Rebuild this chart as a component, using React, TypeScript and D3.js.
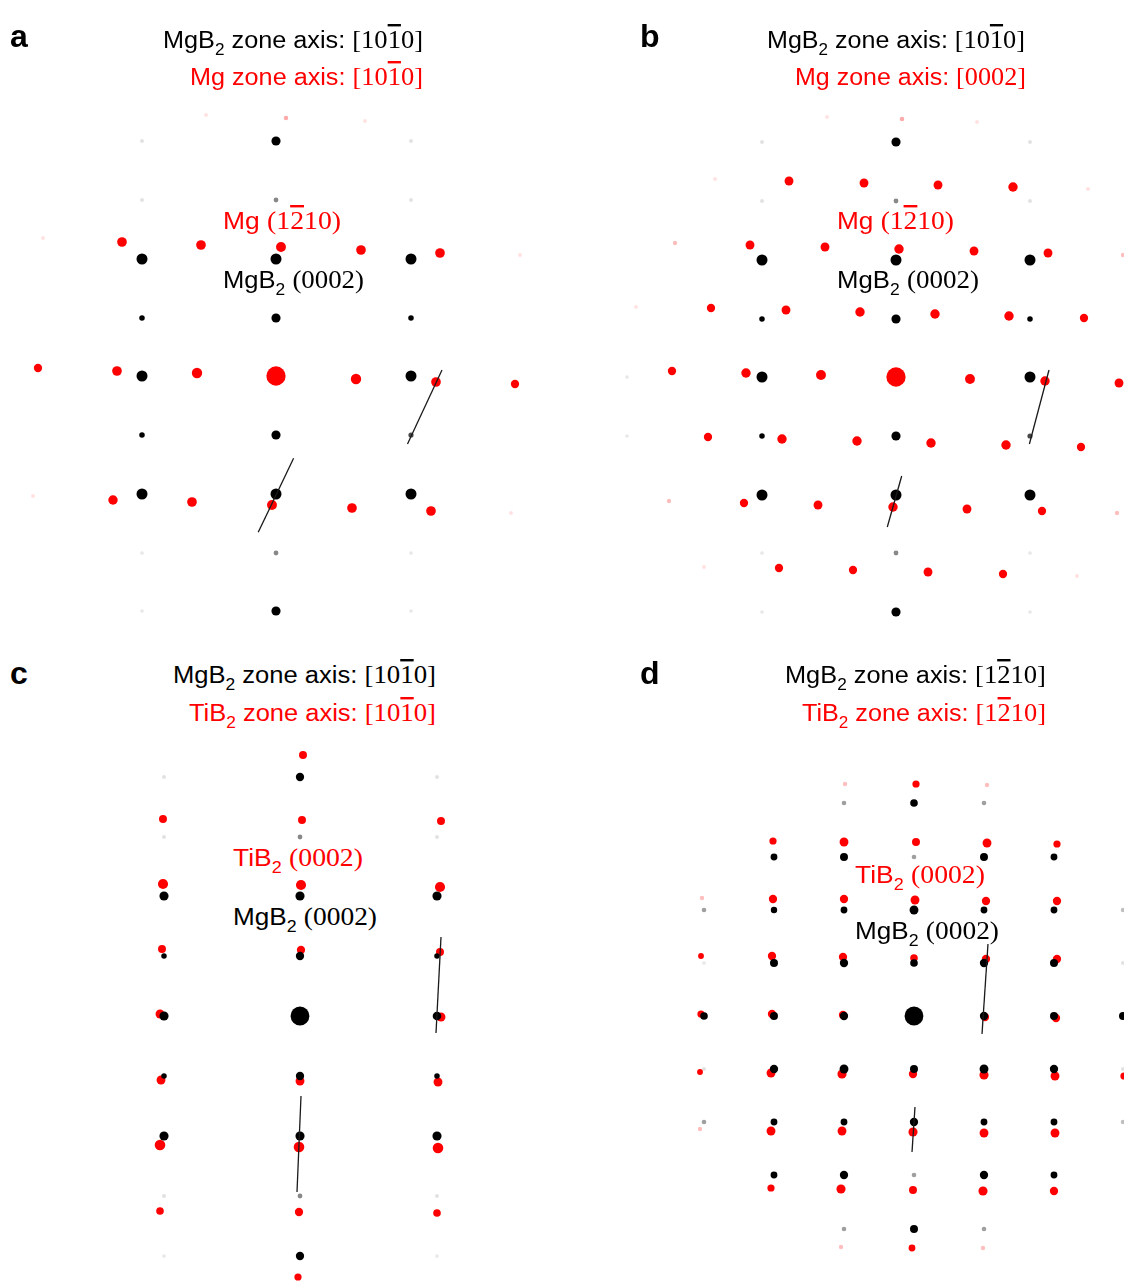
import React from 'react';
import * as d3 from 'd3';

// spot = [gx, gy, intensity]; g in detector units, measured from the transmitted beam
type Spot = [number, number, number];
type Seg = [number, number, number, number];
type Part = { t: string; serif?: boolean; sub?: boolean; bar?: boolean };

// ---- panel a : MgB2 [10-10] / Mg [10-10]
const mgb2A: Spot[] = [
  [-134, -235, 0.6], [0, -235, 12], [135, -235, 0.6],
  [-134, -176, 0.6], [0, -176, 1.5], [135, -176, 0.6],
  [-134, -117, 20], [0, -117, 20], [135, -117, 20],
  [-134, -58, 2.5], [0, -58, 12], [135, -58, 2.5],
  [-134, 0, 20], [135, 0, 20],
  [-134, 59, 2.5], [0, 59, 12], [135, 59, 2],
  [-134, 118, 20], [0, 118, 20], [135, 118, 20],
  [-134, 177, 0.5], [0, 177, 1.5], [135, 177, 0.5],
  [-134, 235, 0.5], [0, 235, 12], [135, 235, 0.5],
];
const mgA: Spot[] = [
  [-70, -261, 0.6], [10, -258, 1.2], [89, -255, 0.6],
  [-233, -138, 0.6], [-154, -134, 14], [-75, -131, 14], [5, -129, 15], [85, -126, 14], [164, -123, 14], [244, -121, 0.6],
  [-238, -8, 9], [-159, -5, 14], [-79, -3, 17], [0, 0, 85], [80, 3, 17], [160, 6, 14], [239, 8, 9],
  [-243, 120, 0.6], [-163, 124, 13], [-84, 126, 14], [-4, 129, 15], [76, 132, 14], [155, 135, 14], [235, 137, 0.6],
];
const linesA: Seg[] = [[166, -6, 131.5, 68], [17.6, 82.3, -17.8, 156.3]];

// ---- panel b : MgB2 [10-10] / Mg [0002]
const mgb2B: Spot[] = [
  [-269, 0, 0.5], [-269, 59, 0.5],
  [-134, -235, 0.6], [0, -235, 12], [134, -235, 0.6],
  [-134, -176, 0.6], [0, -176, 1.5], [134, -176, 0.6],
  [-134, -117, 20], [0, -117, 20], [134, -117, 20],
  [-134, -58, 2.5], [0, -58, 12], [134, -58, 2.5],
  [-134, 0, 20], [134, 0, 20],
  [-134, 59, 2.5], [0, 59, 12], [134, 59, 2],
  [-134, 118, 20], [0, 118, 20], [134, 118, 20],
  [-134, 176, 0.5], [0, 176, 1.5], [134, 176, 0.5],
  [-134, 235, 0.5], [0, 235, 12], [134, 235, 0.5],
];
const mgB: Spot[] = [
  [-69, -260, 0.6], [6, -258, 1.2], [81, -255, 0.6],
  [-181, -198, 0.6], [-107, -196, 11], [-32, -194, 11], [42, -192, 11], [117, -190, 13], [192, -188, 0.6],
  [-221, -134, 1], [-146, -132, 11], [-71, -130, 11], [3, -128, 13], [78, -126, 11], [152, -124, 11], [227, -122, 1],
  [-260, -70, 0.6], [-185, -69, 9], [-110, -67, 11], [-36, -65, 13], [39, -63, 13], [113, -61, 13], [188, -59, 9],
  [-224, -6, 9], [-150, -4, 13], [-75, -2, 15], [0, 0, 85], [74, 2, 15], [149, 4, 13], [223, 6, 11],
  [-188, 60, 9], [-114, 62, 13], [-39, 64, 13], [35, 66, 13], [110, 68, 13], [185, 70, 9],
  [-227, 124, 1], [-152, 126, 9], [-78, 128, 11], [-3, 130, 13], [71, 132, 11], [146, 134, 9], [221, 136, 1],
  [-192, 190, 0.6], [-117, 191, 9], [-43, 193, 9], [32, 195, 11], [107, 197, 9], [181, 199, 0.6],
];
const linesB: Seg[] = [[153, -7, 133.4, 67], [5.7, 99, -8.7, 150]];

// ---- panel c : MgB2 [10-10] / TiB2 [10-10]
const mgb2C: Spot[] = [
  [-136, -239, 0.6], [0, -239, 9], [137, -239, 0.6],
  [-136, -179, 0.6], [0, -179, 1.5], [137, -179, 0.6],
  [-136, -120, 12], [0, -120, 12], [137, -120, 12],
  [-136, -60, 2.5], [0, -60, 9], [137, -60, 2.5],
  [-136, 0, 12], [0, 0, 80], [137, 0, 10],
  [-136, 60, 2.5], [0, 60, 9], [137, 60, 2.5],
  [-136, 120, 12], [0, 120, 12], [137, 120, 12],
  [-136, 180, 0.6], [0, 180, 1.5], [137, 180, 0.6],
  [-136, 240, 0.5], [0, 240, 9], [137, 240, 0.5],
];
const tib2C: Spot[] = [
  [3, -261, 8],
  [-137, -197, 8], [2, -196, 8], [141, -195, 8],
  [-137, -132, 16], [1, -131, 16], [140, -129, 16],
  [-138, -67, 8], [1, -66, 9], [140, -64, 8],
  [-140, -2, 11], [141, 1, 11],
  [-139, 64, 11], [0, 65, 11], [138, 66, 11],
  [-140, 129, 18], [-1, 131, 18], [138, 132, 18],
  [-140, 195, 7], [-1, 196, 9], [137, 197, 7],
  [-2, 261, 6],
];
const linesC: Seg[] = [[141, -79, 136, 17], [1, 80, -3, 176]];

// ---- panel d : MgB2 [1-210] / TiB2 [1-210]
const mgb2D: Spot[] = [
  [-70, -213, 1.3], [0, -213, 7], [70, -213, 1.3],
  [-140, -159, 5], [-70, -159, 8], [0, -159, 1.3], [70, -159, 8], [140, -159, 5],
  [-210, -106, 1.3], [-140, -106, 4], [-70, -106, 5], [0, -106, 11], [70, -106, 5], [140, -106, 5], [209, -106, 1],
  [-210, -53, 0.5], [-140, -53, 8], [-70, -53, 9], [0, -53, 7], [70, -53, 9], [140, -53, 8], [209, -53, 0.6],
  [-210, 0, 7], [-140, 0, 8], [-70, 0, 9], [0, 0, 80], [70, 0, 9], [140, 0, 8], [209, 0, 8],
  [-210, 53, 0.6], [-140, 53, 9], [-70, 53, 11], [0, 53, 8], [70, 53, 11], [140, 53, 9], [209, 53, 0.6],
  [-210, 106, 1.3], [-140, 106, 5], [-70, 106, 5], [0, 106, 9], [70, 106, 5], [140, 106, 5], [209, 106, 1],
  [-140, 159, 5], [-70, 159, 9], [0, 159, 1.3], [70, 159, 9], [140, 159, 5],
  [-70, 213, 1.3], [0, 213, 8], [70, 213, 1.3],
];
const tib2D: Spot[] = [
  [-69, -232, 1], [2, -232, 6], [73, -231, 1],
  [-141, -175, 6], [-70, -174, 11], [2, -174, 8], [73, -173, 11], [143, -172, 6],
  [-212, -118, 1], [-141, -117, 9], [-70, -117, 9], [1, -116, 11], [72, -115, 9], [143, -115, 9],
  [-213, -60, 3], [-142, -60, 9], [-71, -59, 9], [0, -58, 7], [72, -57, 9], [143, -57, 9],
  [-213, -2, 6], [-142, -2, 9], [-71, -1, 9], [71, 1, 9], [142, 2, 9],
  [-214, 56, 3], [-143, 57, 11], [-72, 58, 12], [-1, 58, 9], [70, 59, 12], [141, 60, 11], [210, 60, 6],
  [-214, 113, 1], [-143, 115, 11], [-72, 115, 11], [-1, 116, 12], [70, 117, 11], [141, 117, 11],
  [-143, 172, 6], [-73, 173, 12], [-1, 174, 8], [69, 175, 12], [140, 175, 9],
  [-73, 231, 1], [-2, 232, 5], [69, 232, 1],
];
const linesD: Seg[] = [[74, -72, 68, 18], [1, 91, -2, 136]];

// ---- text
const bar1010: Part[] = [{ t: '[10', serif: true }, { t: '1', serif: true, bar: true }, { t: '0]', serif: true }];
const bar1210: Part[] = [{ t: '[1', serif: true }, { t: '2', serif: true, bar: true }, { t: '10]', serif: true }];
const mgb2Zone = (ax: Part[]): Part[] => [{ t: 'MgB' }, { t: '2', sub: true }, { t: ' zone axis: ' }, ...ax];
const tib2Zone = (ax: Part[]): Part[] => [{ t: 'TiB' }, { t: '2', sub: true }, { t: ' zone axis: ' }, ...ax];
const mgZone = (ax: Part[]): Part[] => [{ t: 'Mg zone axis: ' }, ...ax];
const mgSpot: Part[] = [{ t: 'Mg ' }, { t: '(1', serif: true }, { t: '2', serif: true, bar: true }, { t: '10)', serif: true }];
const mgb2Spot: Part[] = [{ t: 'MgB' }, { t: '2', sub: true }, { t: ' ' }, { t: '(0002)', serif: true }];
const tib2Spot: Part[] = [{ t: 'TiB' }, { t: '2', sub: true }, { t: ' ' }, { t: '(0002)', serif: true }];

const BLACK = '#000';
const RED = '#ff0000';
const SANS = "'Liberation Sans', Arial, sans-serif";
const SERIF = "'Liberation Serif', 'DejaVu Serif', serif";

type Panel = {
  letter: string; lx: number; ly: number;
  cx: number; cy: number;
  under: { spots: Spot[]; color: string };
  over: { spots: Spot[]; color: string };
  lines: Seg[];
  texts: { parts: Part[]; x: number; y: number; w: number; color: string }[];
};

const panels: Panel[] = [
  {
    letter: 'a', lx: 10, ly: 47, cx: 276, cy: 376,
    under: { spots: mgb2A, color: BLACK }, over: { spots: mgA, color: RED }, lines: linesA,
    texts: [
      { parts: mgb2Zone(bar1010), x: 163, y: 48, w: 260, color: BLACK },
      { parts: mgZone(bar1010), x: 190, y: 85, w: 233, color: RED },
      { parts: mgSpot, x: 223, y: 229, w: 118, color: RED },
      { parts: mgb2Spot, x: 223, y: 288, w: 141, color: BLACK },
    ],
  },
  {
    letter: 'b', lx: 640, ly: 47, cx: 896, cy: 377,
    under: { spots: mgb2B, color: BLACK }, over: { spots: mgB, color: RED }, lines: linesB,
    texts: [
      { parts: mgb2Zone(bar1010), x: 767, y: 48, w: 258, color: BLACK },
      { parts: mgZone([{ t: '[0002]', serif: true }]), x: 795, y: 85, w: 231, color: RED },
      { parts: mgSpot, x: 837, y: 229, w: 117, color: RED },
      { parts: mgb2Spot, x: 837, y: 288, w: 142, color: BLACK },
    ],
  },
  {
    letter: 'c', lx: 10, ly: 684, cx: 300, cy: 1016,
    under: { spots: tib2C, color: RED }, over: { spots: mgb2C, color: BLACK }, lines: linesC,
    texts: [
      { parts: mgb2Zone(bar1010), x: 173, y: 683, w: 263, color: BLACK },
      { parts: tib2Zone(bar1010), x: 189, y: 721, w: 247, color: RED },
      { parts: tib2Spot, x: 233, y: 866, w: 130, color: RED },
      { parts: mgb2Spot, x: 233, y: 925, w: 144, color: BLACK },
    ],
  },
  {
    letter: 'd', lx: 640, ly: 684, cx: 914, cy: 1016,
    under: { spots: tib2D, color: RED }, over: { spots: mgb2D, color: BLACK }, lines: linesD,
    texts: [
      { parts: mgb2Zone(bar1210), x: 785, y: 683, w: 261, color: BLACK },
      { parts: tib2Zone(bar1210), x: 802, y: 721, w: 244, color: RED },
      { parts: tib2Spot, x: 855, y: 883, w: 130, color: RED },
      { parts: mgb2Spot, x: 855, y: 939, w: 144, color: BLACK },
    ],
  },
];

// intensity -> spot radius / opacity
const rScale = d3.scalePow().exponent(0.45).domain([0, 100]).range([1, 10.3]);
const oScale = d3.scalePow().exponent(1.5).domain([0, 2.5]).range([0, 1]).clamp(true);

function Rich({ parts, x, y, w, color, size }: { parts: Part[]; x: number; y: number; w: number; color: string; size: number }) {
  let prevSub = false;
  return (
    <text x={x} y={y} fill={color} fontSize={size} fontFamily={SANS} textLength={w} lengthAdjust="spacingAndGlyphs">
      {parts.map((p, i) => {
        let dy = 0;
        if (p.sub && !prevSub) dy = size * 0.32;
        if (!p.sub && prevSub) dy = -size * 0.32;
        prevSub = !!p.sub;
        return (
          <tspan
            key={i}
            dy={dy || undefined}
            fontFamily={p.serif ? SERIF : undefined}
            fontSize={p.sub ? size * 0.68 : p.serif ? size * 1.05 : undefined}
            style={p.bar ? { textDecoration: 'overline' } : undefined}
          >
            {p.t}
          </tspan>
        );
      })}
    </text>
  );
}

function SpotLayer({ spots, color, x, y }: { spots: Spot[]; color: string; x: d3.ScaleLinear<number, number>; y: d3.ScaleLinear<number, number> }) {
  return (
    <g fill={color}>
      {spots.map((s, i) => (
        <circle key={i} cx={x(s[0])} cy={y(s[1])} r={rScale(s[2])} opacity={oScale(s[2])} />
      ))}
    </g>
  );
}

export default function App() {
  return (
    <svg width={1124} height={1281} style={{ position: 'absolute', left: 0, top: 0, background: '#fff' }}>
      <defs>
        <filter id="soft" x="-20%" y="-20%" width="140%" height="140%">
          <feGaussianBlur stdDeviation="0.5" />
        </filter>
      </defs>
      {panels.map((p) => {
        const x = d3.scaleLinear().domain([-300, 300]).range([p.cx - 300, p.cx + 300]);
        const y = d3.scaleLinear().domain([-300, 300]).range([p.cy - 300, p.cy + 300]);
        return (
          <g key={p.letter}>
            <g filter="url(#soft)">
              <SpotLayer spots={p.under.spots} color={p.under.color} x={x} y={y} />
              <SpotLayer spots={p.over.spots} color={p.over.color} x={x} y={y} />
            </g>
            {p.lines.map((l, i) => (
              <line key={i} x1={x(l[0])} y1={y(l[1])} x2={x(l[2])} y2={y(l[3])} stroke="#1a1a1a" strokeWidth={1.3} />
            ))}
            {p.texts.map((t, i) => (
              <Rich key={i} parts={t.parts} x={t.x} y={t.y} w={t.w} color={t.color} size={23} />
            ))}
            <text x={p.lx} y={p.ly} fontFamily={SANS} fontWeight="bold" fontSize={32} fill="#000">
              {p.letter}
            </text>
          </g>
        );
      })}
    </svg>
  );
}
